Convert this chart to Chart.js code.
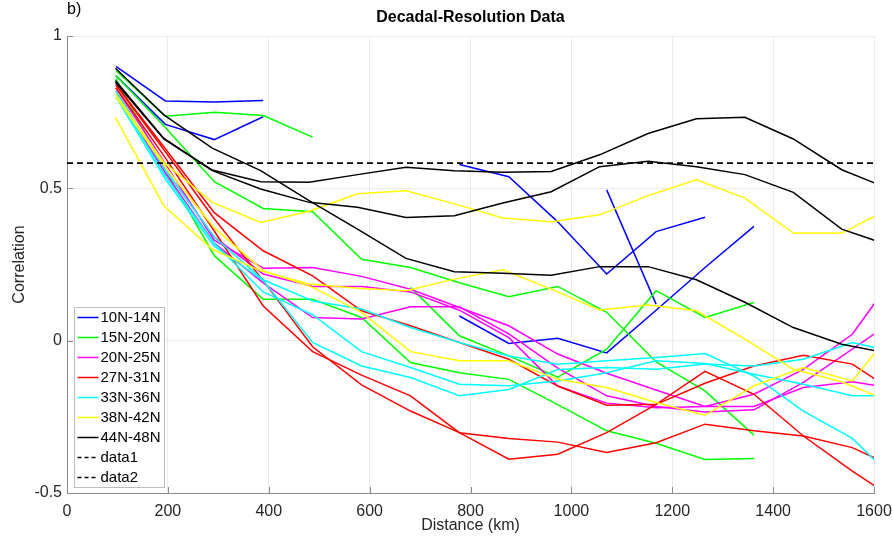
<!DOCTYPE html>
<html><head><meta charset="utf-8">
<script src="https://cdn.jsdelivr.net/npm/chart.js@4.4.1/dist/chart.umd.min.js"></script>
<style>html,body{margin:0;padding:0;background:#fff;}#wrap{width:893px;height:545px;position:relative;}</style>
</head><body><div id="wrap"><canvas id="c" width="893" height="545"></canvas></div>
<script>
// ---------- DATA ----------
const distA = [97, 195, 292, 389, 487, 584, 681, 778, 876, 973, 1070, 1168, 1265, 1362, 1460, 1557, 1654];
const distB = [96, 192, 288, 384, 480, 576, 672, 768, 864, 960, 1056, 1152, 1248, 1344, 1440, 1536, 1632];

const xTicks = [0, 200, 400, 600, 800, 1000, 1200, 1400, 1600];
const yTicks = [-0.5, 0, 0.5, 1];

const groupNames = ['10N-14N', '15N-20N', '20N-25N', '27N-31N', '33N-36N', '38N-42N', '44N-48N'];

// 10N-14N
const blue1 = [0.90, 0.787, 0.783, 0.788];
const blue2 = [0.87, 0.71, 0.66, 0.735];
const blue3 = [null, null, null, null, null, null, null, 0.578, 0.538, 0.39, 0.219, 0.358, 0.405];
const blue4 = [null, null, null, null, null, null, null, null, null, null, 0.495, 0.12];
const blue5 = [null, null, null, null, null, null, null, 0.081, -0.009, 0.008, -0.04, 0.1, 0.24, 0.375];
// 15N-20N
const green1 = [0.887, 0.737, 0.75, 0.739, 0.668];
const green2 = [0.87, 0.70, 0.522, 0.434, 0.423, 0.267, 0.24, 0.19, 0.144, 0.178, 0.093, -0.07, -0.165, -0.31];
const green3 = [0.86, 0.56, 0.279, 0.136, 0.136, 0.076, -0.072, -0.105, -0.127, -0.21, -0.296, -0.337, -0.39, -0.387];
const green4 = [null, null, null, null, null, null, 0.175, 0.016, -0.05, -0.12, -0.028, 0.164, 0.076, 0.125];
// 20N-25N
const magenta1 = [0.83, 0.58, 0.33, 0.238, 0.24, 0.211, 0.169, 0.109, 0.049, -0.044, -0.107, -0.162, -0.216, -0.176, -0.094, 0.021, 0.244];
const magenta2 = [0.82, 0.56, 0.34, 0.219, 0.178, 0.178, 0.16, 0.1, 0.01, -0.149, -0.205, -0.22, -0.216, -0.216, -0.154, -0.135, -0.16];
const magenta3 = [0.81, 0.55, 0.32, 0.19, 0.076, 0.071, 0.111, 0.111, 0.022, -0.09, -0.181, -0.216, -0.234, -0.227, -0.137, -0.028, 0.083];
// 27N-31N
const red1 = [0.83, 0.60, 0.36, 0.114, -0.036, -0.113, -0.181, -0.302, -0.321, -0.333, -0.367, -0.335, -0.274, -0.296, -0.313, -0.351, -0.425];
const red2 = [0.84, 0.62, 0.40, 0.197, -0.02, -0.145, -0.231, -0.302, -0.389, -0.373, -0.302, -0.209, -0.14, -0.083, -0.048, -0.077, -0.183];
const red3 = [0.84, 0.63, 0.42, 0.295, 0.213, 0.098, 0.049, -0.006, -0.061, -0.149, -0.212, -0.209, -0.101, -0.176, -0.313, -0.428, -0.534];
// 33N-36N
const cyan1 = [0.82, 0.56, 0.34, 0.2, 0.13, 0.104, 0.043, -0.006, -0.05, -0.077, -0.066, -0.055, -0.042, -0.116, -0.231, -0.321, -0.477];
const cyan2 = [0.80, 0.53, 0.31, 0.197, -0.006, -0.083, -0.121, -0.181, -0.16, -0.095, -0.088, -0.094, -0.077, -0.083, -0.061, -0.006, -0.042];
const cyan3 = [0.81, 0.54, 0.32, 0.16, 0.085, -0.036, -0.088, -0.143, -0.148, -0.132, -0.105, -0.066, -0.075, -0.11, -0.143, -0.181, -0.181];
// 38N-42N
const yellow1 = [0.81, 0.585, 0.454, 0.388, 0.425, 0.482, 0.492, 0.449, 0.403, 0.39, 0.413, 0.476, 0.528, 0.468, 0.353, 0.353, 0.434];
const yellow2 = [0.733, 0.443, 0.3, 0.229, 0.186, 0.172, 0.164, 0.202, 0.233, 0.169, 0.101, 0.117, 0.098, 0.005, -0.094, -0.135, -0.2];
const yellow3 = [0.80, 0.57, 0.37, 0.23, 0.175, 0.093, -0.036, -0.066, -0.066, -0.127, -0.154, -0.203, -0.245, -0.148, -0.088, -0.132, 0.067];
// 44N-48N
const black1 = [0.894, 0.741, 0.632, 0.558, 0.46, 0.366, 0.27, 0.226, 0.221, 0.215, 0.243, 0.243, 0.2, 0.126, 0.043, -0.012, -0.042];
const black2 = [0.854, 0.664, 0.56, 0.522, 0.52, 0.545, 0.569, 0.558, 0.553, 0.555, 0.61, 0.68, 0.728, 0.733, 0.662, 0.561, 0.497];
const black3 = [0.848, 0.662, 0.558, 0.498, 0.454, 0.438, 0.404, 0.41, 0.452, 0.489, 0.571, 0.589, 0.571, 0.545, 0.487, 0.366, 0.312];

// reference lines
const refX = [0, 1600];
const data1Vals = [0.582, 0.582];
const data2Vals = [0.582, 0.582];

// series -> group / distance mapping
const seriesList = [
  [0, distA, blue1], [0, distA, blue2], [0, distA, blue3], [0, distA, blue4], [0, distA, blue5],
  [1, distA, green1], [1, distA, green2], [1, distA, green3], [1, distA, green4],
  [2, distA, magenta1], [2, distA, magenta2], [2, distA, magenta3],
  [3, distA, red1], [3, distA, red2], [3, distA, red3],
  [4, distA, cyan1], [4, distA, cyan2], [4, distA, cyan3],
  [5, distB, yellow1], [5, distB, yellow2], [5, distA, yellow3],
  [6, distB, black1], [6, distB, black2], [6, distB, black3]
];

// ---------- STYLE ----------
const groupColors = ['#0000ff', '#00ff00', '#ff00ff', '#ff0000', '#00ffff', '#ffff00', '#000000'];
const FONT = "'Liberation Sans', Arial, Helvetica, sans-serif";
const AXIS_COLOR = '#8a8a8a';
const TEXT_COLOR = '#262626';

function toPoints(xs, ys) {
  const pts = [];
  ys.forEach((v, i) => { if (v !== null && v !== undefined) pts.push({x: xs[i], y: v}); });
  return pts;
}

const datasets = seriesList.map(([g, xs, ys]) => ({
  label: groupNames[g],
  data: toPoints(xs, ys),
  borderColor: groupColors[g],
  borderWidth: 1.5,
  pointRadius: 0,
  tension: 0,
  fill: false,
  clip: 0,
  order: 6 - g
}));
datasets.push({label: 'data1', data: toPoints(refX, data1Vals), borderColor: '#000', borderWidth: 1.5, borderDash: [6, 4], pointRadius: 0, clip: 0, order: -1});
datasets.push({label: 'data2', data: toPoints(refX, data2Vals), borderColor: '#000', borderWidth: 1.5, borderDash: [6, 4], pointRadius: 0, clip: 0, order: -2});

const legendItems = groupNames.map((n, i) => ({text: n, color: groupColors[i], dash: []}))
  .concat([{text: 'data1', color: '#000', dash: [4, 3]}, {text: 'data2', color: '#000', dash: [4, 3]}]);

const decor = {
  id: 'decor',
  afterDraw(chart) {
    const {ctx, chartArea: ca, scales: {x, y}} = chart;
    ctx.save();
    // inward tick marks
    ctx.strokeStyle = AXIS_COLOR; ctx.lineWidth = 1; ctx.setLineDash([]);
    ctx.beginPath();
    x.ticks.forEach(t => { const px = Math.round(x.getPixelForValue(t.value)) + 0.5; ctx.moveTo(px, ca.bottom); ctx.lineTo(px, ca.bottom - 6); });
    y.ticks.forEach(t => { const py = Math.round(y.getPixelForValue(t.value)) + 0.5; ctx.moveTo(ca.left, py); ctx.lineTo(ca.left + 6, py); });
    ctx.stroke();
    // legend box
    const lw = 90, rowH = 20, lh = legendItems.length * rowH;
    const lx = Math.round(ca.left + 7) + 0.5, ly = Math.round(ca.bottom - 6 - lh) + 0.5;
    ctx.fillStyle = '#fff'; ctx.fillRect(lx, ly, lw, lh);
    ctx.strokeStyle = '#bdbdbd'; ctx.strokeRect(lx, ly, lw, lh);
    ctx.font = `15px ${FONT}`; ctx.textBaseline = 'middle'; ctx.textAlign = 'left';
    legendItems.forEach((it, i) => {
      const cy = ly + 10 + i * rowH;
      ctx.strokeStyle = it.color; ctx.lineWidth = 1.5; ctx.setLineDash(it.dash);
      ctx.beginPath(); ctx.moveTo(lx + 3, cy); ctx.lineTo(lx + 24, cy); ctx.stroke();
      ctx.setLineDash([]);
      ctx.fillStyle = '#000'; ctx.fillText(it.text, lx + 26, cy + 0.5);
    });
    // title and panel label
    ctx.fillStyle = '#000'; ctx.font = `bold 16px ${FONT}`; ctx.textAlign = 'center'; ctx.textBaseline = 'middle';
    ctx.fillText('Decadal-Resolution Data', (ca.left + ca.right) / 2, 18);
    ctx.font = `16px ${FONT}`; ctx.textAlign = 'left';
    ctx.fillText('b)', 67, 10);
    ctx.restore();
  }
};

new Chart(document.getElementById('c'), {
  type: 'line',
  data: {datasets},
  options: {
    responsive: false,
    animation: false,
    devicePixelRatio: 1,
    layout: {padding: {left: 0, right: 19, top: 36, bottom: 0}},
    plugins: {legend: {display: false}, tooltip: {enabled: false}, title: {display: false}},
    elements: {line: {borderCapStyle: 'butt', borderJoinStyle: 'miter'}},
    scales: {
      x: {
        type: 'linear', min: 0, max: 1600,
        afterFit(s) { s.height = 52; s.paddingRight = 0; s.paddingLeft = 0; },
        afterBuildTicks(s) { s.ticks = xTicks.map(v => ({value: v})); },
        ticks: {color: TEXT_COLOR, font: {family: FONT, size: 16}, padding: 9, maxRotation: 0, autoSkip: false, callback: v => String(v)},
        grid: {color: '#ebebeb', lineWidth: 1, drawTicks: false},
        border: {display: true, color: AXIS_COLOR, width: 1},
        title: {display: true, text: 'Distance (km)', color: TEXT_COLOR, font: {family: FONT, size: 16}, padding: {top: 4, bottom: 10}}
      },
      y: {
        type: 'linear', min: -0.5, max: 1,
        afterFit(s) { s.width = 67; },
        afterBuildTicks(s) { s.ticks = yTicks.map(v => ({value: v})); },
        ticks: {color: TEXT_COLOR, font: {family: FONT, size: 16}, padding: 5, callback: v => String(v)},
        grid: {color: '#ebebeb', lineWidth: 1, drawTicks: false},
        border: {display: true, color: AXIS_COLOR, width: 1},
        title: {display: true, text: 'Correlation', color: TEXT_COLOR, font: {family: FONT, size: 16}, padding: {top: 10, bottom: 4}}
      }
    }
  },
  plugins: [decor]
});
</script></body></html>
